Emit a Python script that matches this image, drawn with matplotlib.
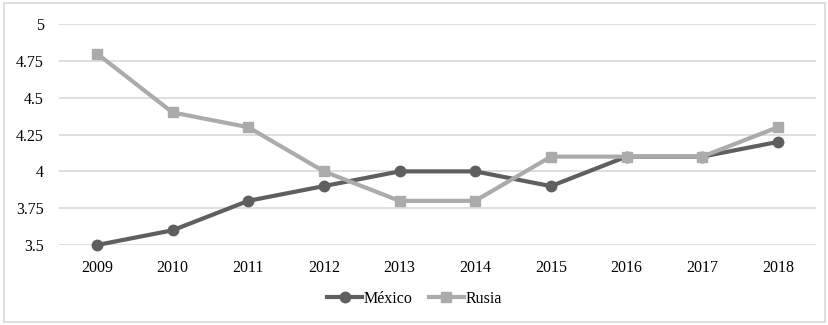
import matplotlib
matplotlib.use("Agg")
import matplotlib.pyplot as plt
from matplotlib.patches import Rectangle

years = ["2009", "2010", "2011", "2012", "2013", "2014", "2015", "2016", "2017", "2018"]
mexico = [3.5, 3.6, 3.8, 3.9, 4.0, 4.0, 3.9, 4.1, 4.1, 4.2]
rusia = [4.8, 4.4, 4.3, 4.0, 3.8, 3.8, 4.1, 4.1, 4.1, 4.3]
yticks = [3.5, 3.75, 4, 4.25, 4.5, 4.75, 5]
yticklabels = ["3.5", "3.75", "4", "4.25", "4.5", "4.75", "5"]

plt.rcParams['font.family'] = ['Liberation Serif', 'DejaVu Serif']

fig = plt.figure(figsize=(8.29, 3.25), dpi=100)
fig.patches.append(Rectangle((0.005, 0.008), 0.99, 0.982, transform=fig.transFigure,
                             fill=False, edgecolor='#d9d9d9', linewidth=1.2))
ax = fig.add_axes([0.0712, 0.246, 0.9128, 0.68])
x = list(range(len(years)))
ax.plot(x, mexico, color='#5f5f5f', linewidth=3, marker='o', markersize=7.5, label='México',
        zorder=3, clip_on=False)
ax.plot(x, rusia, color='#ababab', linewidth=3, marker='s', markersize=7.5, label='Rusia',
        zorder=3, clip_on=False)

ax.set_xlim(-0.5, len(years) - 0.5)
ax.set_ylim(3.5, 5)
ax.set_xticks(x)
ax.set_xticklabels(years, fontsize=11.5)
ax.set_yticks(yticks)
ax.set_yticklabels(yticklabels, fontsize=11.5)
ax.tick_params(length=0, pad=11)
ax.tick_params(axis='y', pad=11)
for s in ax.spines.values():
    s.set_visible(False)
ax.grid(axis='y', color='#d9d9d9', linewidth=1.2)
ax.set_axisbelow(True)

fig.legend(loc='center', bbox_to_anchor=(0.5, 0.08), ncol=2, frameon=False,
           fontsize=11.5, handlelength=2.2, handletextpad=0.1, columnspacing=1.0)

fig.savefig("out.png", dpi=100)
